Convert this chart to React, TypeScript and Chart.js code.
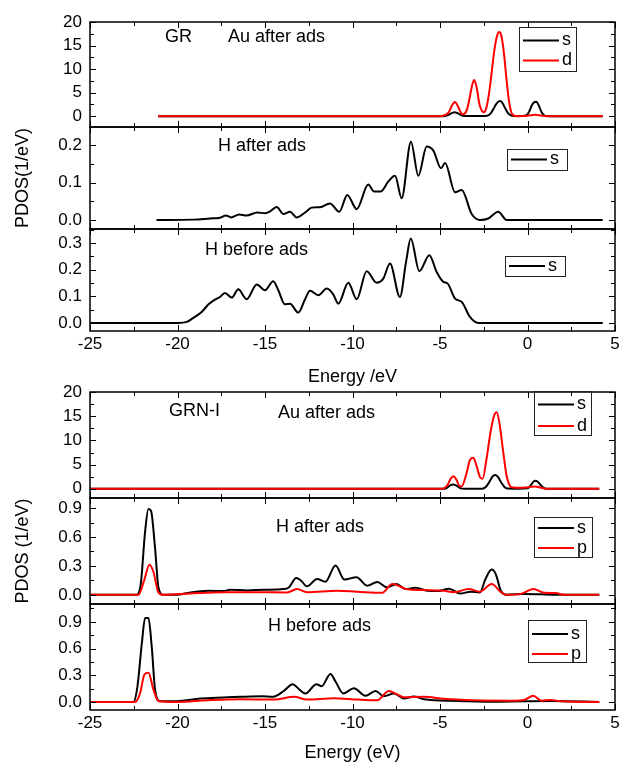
import React, { useEffect, useRef } from 'react';
import { Chart, registerables } from 'chart.js';
Chart.register(...registerables);

type Pt = [number, number];

// ---------- data (energy eV, PDOS) ----------
// GR, Au after ads
const grAuS: Pt[] = [[-21.1,0],[-5.0,0],[-4.7,0.05],[-4.5,0.3],[-4.3,0.7],[-4.15,0.85],[-4.0,0.65],[-3.8,0.25],[-3.6,0.05],[-3.4,0.02],[-2.6,0.02],[-2.3,0.1],[-2.1,0.6],[-1.95,1.5],[-1.8,2.5],[-1.65,3.15],[-1.55,3.2],[-1.4,2.6],[-1.25,1.5],[-1.1,0.6],[-0.95,0.15],[-0.8,0.03],[-0.3,0.02],[-0.05,0.2],[0.1,1.0],[0.25,2.3],[0.4,3.0],[0.5,3.05],[0.65,2.2],[0.8,0.9],[0.95,0.2],[1.1,0.03],[1.4,0],[4.3,0]];
const grAuD: Pt[] = [[-21.1,0],[-5.2,0],[-4.9,0.05],[-4.7,0.25],[-4.5,0.8],[-4.35,2.0],[-4.15,3.0],[-3.95,1.9],[-3.8,0.7],[-3.7,0.4],[-3.6,0.5],[-3.45,1.5],[-3.3,4.0],[-3.15,6.8],[-3.04,7.7],[-2.9,6.0],[-2.75,2.6],[-2.6,1.1],[-2.5,0.85],[-2.35,1.8],[-2.2,4.8],[-2.05,9.2],[-1.9,13.8],[-1.75,16.9],[-1.62,17.9],[-1.5,17.2],[-1.35,13.5],[-1.2,7.8],[-1.05,3.0],[-0.9,0.6],[-0.75,0.1],[-0.5,0],[0.0,0.1],[0.45,0.3],[0.8,0.1],[1.1,0],[4.3,0]];
// GR, H after ads
const grHAfterS: Pt[] = [[-21.2,0],[-19.1,0.001],[-18.14,0.004],[-17.57,0.006],[-17.23,0.012],[-16.94,0.007],[-16.47,0.015],[-16.05,0.012],[-15.44,0.02],[-15.0,0.018],[-14.71,0.023],[-14.33,0.035],[-13.95,0.016],[-13.57,0.022],[-13.19,0.007],[-12.71,0.02],[-12.33,0.033],[-11.86,0.034],[-11.29,0.044],[-10.75,0.022],[-10.3,0.067],[-9.76,0.029],[-9.1,0.095],[-8.77,0.076],[-8.39,0.076],[-7.95,0.103],[-7.57,0.118],[-7.19,0.058],[-6.66,0.209],[-6.24,0.118],[-5.76,0.196],[-5.38,0.185],[-4.94,0.138],[-4.71,0.152],[-4.14,0.074],[-3.76,0.08],[-3.19,0.016],[-2.71,0],[-2.24,0.004],[-1.67,0.022],[-1.19,0],[4.3,0]];
// GR, H before ads
const grHBeforeS: Pt[] = [[-25,0],[-19.95,0],[-19.47,0.004],[-19.1,0.019],[-18.62,0.041],[-18.24,0.069],[-17.86,0.0875],[-17.57,0.0975],[-17.29,0.1125],[-16.9,0.095],[-16.53,0.126],[-16.05,0.089],[-15.47,0.144],[-15.0,0.1225],[-14.53,0.156],[-14.24,0.1225],[-13.86,0.07],[-13.57,0.0725],[-13.1,0.039],[-12.71,0.089],[-12.43,0.121],[-11.95,0.104],[-11.47,0.129],[-11.1,0.1075],[-10.81,0.0725],[-10.24,0.151],[-9.76,0.089],[-9.19,0.194],[-8.62,0.151],[-8.24,0.166],[-7.86,0.2225],[-7.29,0.0975],[-6.94,0.229],[-6.67,0.316],[-6.18,0.194],[-5.61,0.254],[-5.19,0.191],[-4.81,0.154],[-4.56,0.1475],[-4.14,0.091],[-3.76,0.079],[-3.29,0.0225],[-2.81,0],[4.3,0]];
// GRN-I, Au after ads
const grnAuS: Pt[] = [[-25,0],[-4.75,0],[-4.55,0.35],[-4.4,0.75],[-4.24,0.9],[-4.05,0.65],[-3.85,0.15],[-3.6,0.02],[-2.6,0.02],[-2.4,0.3],[-2.2,1.3],[-2.0,2.5],[-1.86,2.85],[-1.7,2.5],[-1.5,1.3],[-1.3,0.3],[-1.15,0.05],[-0.5,0.02],[0.0,0.1],[0.2,0.8],[0.35,1.5],[0.47,1.67],[0.6,1.4],[0.8,0.6],[1.0,0.1],[1.2,0],[4.1,0]];
const grnAuD: Pt[] = [[-25,0],[-4.9,0],[-4.6,0.6],[-4.4,2.0],[-4.24,2.6],[-4.05,1.8],[-3.9,0.6],[-3.76,0.5],[-3.5,3.0],[-3.3,5.8],[-3.1,6.4],[-2.9,4.6],[-2.7,2.3],[-2.56,2.1],[-2.35,6.0],[-2.1,12.0],[-1.9,15.2],[-1.76,15.8],[-1.6,13.5],[-1.4,8.0],[-1.2,2.8],[-1.0,0.6],[-0.85,0.3],[-0.5,0.2],[0.1,0.35],[0.43,0.5],[0.8,0.2],[1.1,0],[4.1,0]];
// GRN-I, H after ads
const grnHAfterS: Pt[] = [[-25,0],[-22.33,0],[-22.1,0.11],[-21.85,0.66],[-21.66,0.89],[-21.51,0.87],[-21.28,0.48],[-21.09,0.077],[-20.8,0],[-20.04,0],[-19.27,0.025],[-18.23,0.042],[-17.37,0.039],[-16.98,0.053],[-16.03,0.046],[-15.08,0.053],[-13.93,0.06],[-13.64,0.077],[-13.21,0.175],[-12.94,0.147],[-12.6,0.088],[-12.02,0.165],[-11.55,0.137],[-10.97,0.305],[-10.46,0.158],[-9.77,0.183],[-9.16,0.095],[-8.59,0.133],[-8.02,0.077],[-7.48,0.112],[-6.97,0.06],[-6.39,0.074],[-5.73,0.042],[-5.15,0.039],[-4.48,0.063],[-3.85,0.014],[-3.25,0.032],[-2.72,0.025],[-2.4,0.165],[-2.05,0.263],[-1.82,0.218],[-1.52,0.042],[-1.2,0],[-0.19,0.01],[1.72,0],[4.1,0]];
const grnHAfterP: Pt[] = [[-25,0],[-22.23,0],[-21.91,0.147],[-21.6,0.312],[-21.37,0.235],[-21.09,0.025],[-20.8,0],[-19.27,0.014],[-17.37,0.028],[-15.46,0.028],[-13.74,0.025],[-13.17,0.06],[-12.6,0.028],[-10.88,0.042],[-9.73,0.032],[-8.3,0.021],[-7.73,0.112],[-7.44,0.1],[-6.97,0.06],[-5.92,0.049],[-4.77,0.042],[-4.2,0.028],[-3.35,0.06],[-2.72,0.032],[-2.05,0.112],[-1.5,0.025],[-1.2,0],[-0.38,0.01],[0.34,0.06],[0.95,0.021],[1.62,0.018],[2.1,0],[4.1,0]];
// GRN-I, H before ads
const grnHBeforeS: Pt[] = [[-25,0],[-22.52,0],[-22.29,0.173],[-22.04,0.654],[-21.85,0.942],[-21.66,0.942],[-21.47,0.615],[-21.28,0.135],[-20.99,0.008],[-20.04,0.008],[-18.7,0.038],[-17.37,0.05],[-16.41,0.058],[-15.17,0.065],[-14.54,0.058],[-13.93,0.123],[-13.42,0.2],[-13.07,0.146],[-12.69,0.096],[-12.06,0.2],[-11.77,0.177],[-11.26,0.315],[-10.97,0.23],[-10.53,0.096],[-9.92,0.154],[-9.26,0.069],[-8.68,0.123],[-8.21,0.065],[-7.63,0.096],[-7.06,0.038],[-6.49,0.062],[-5.92,0.031],[-4.01,0.012],[-2.1,0.004],[-0.19,0.008],[1.34,0.01],[4.1,0]];
const grnHBeforeP: Pt[] = [[-25,0],[-22.42,0],[-22.14,0.096],[-21.89,0.308],[-21.66,0.327],[-21.37,0.135],[-21.09,0.012],[-20.04,0],[-18.32,0.019],[-16.41,0.031],[-14.5,0.027],[-13.32,0.058],[-12.6,0.027],[-11.07,0.042],[-9.73,0.027],[-8.59,0.019],[-7.92,0.123],[-7.48,0.088],[-7.06,0.054],[-5.92,0.058],[-4.77,0.035],[-3.05,0.019],[-0.95,0.015],[-0.19,0.023],[0.33,0.069],[0.8,0.015],[1.34,0.023],[1.91,0.008],[4.1,0]];

// axis ticks
const xTickMajor = [-25, -20, -15, -10, -5, 0, 5];
const auTicks = [0, 5, 10, 15, 20];
const hGrTicks = [0, 0.1, 0.2];
const hGrBeforeTicks = [0, 0.1, 0.2, 0.3];
const hGrnTicks = [0, 0.3, 0.6, 0.9];

// ---------- layout ----------
const FONT = "'Liberation Sans', Arial, Helvetica, sans-serif";
const PAGE_W = 628;
const PLOT_LEFT = 90;
const PLOT_RIGHT = 615;
const PAD = 14;
const BLACK = '#000000';
const RED = '#ff0000';

interface Series { data: Pt[]; color: string; label: string; }
interface PanelCfg {
  top: number; bottom: number;
  yMin: number; yMax: number; yMajor: number[]; yMinor: number; yDec: number;
  series: Series[];
  legend: { x: number; y: number; w: number; h: number; rows: number[] };
  notes: { text: string; x: number; y: number }[];
  yTitle?: string;
  xAxis?: { title: string; height: number; pad: number };
}

const panels: PanelCfg[] = [
  { top: 22, bottom: 127, yMin: -2.3, yMax: 20, yMajor: auTicks, yMinor: 2.5, yDec: 0,
    series: [{ data: grAuS, color: BLACK, label: 's' }, { data: grAuD, color: RED, label: 'd' }],
    legend: { x: 519, y: 27, w: 57, h: 44, rows: [40.5, 60.5] },
    notes: [{ text: 'GR', x: 165, y: 37 }, { text: 'Au after ads', x: 228, y: 37 }] },
  { top: 127, bottom: 229, yMin: -0.024, yMax: 0.248, yMajor: hGrTicks, yMinor: 0.05, yDec: 1,
    series: [{ data: grHAfterS, color: BLACK, label: 's' }],
    legend: { x: 507, y: 149, w: 60, h: 21, rows: [159.5] },
    notes: [{ text: 'H after ads', x: 218, y: 146 }], yTitle: 'PDOS(1/eV)' },
  { top: 229, bottom: 331, yMin: -0.03, yMax: 0.352, yMajor: hGrBeforeTicks, yMinor: 0.05, yDec: 1,
    series: [{ data: grHBeforeS, color: BLACK, label: 's' }],
    legend: { x: 505, y: 256, w: 60, h: 20, rows: [266] },
    notes: [{ text: 'H before ads', x: 205, y: 250 }],
    xAxis: { title: 'Energy /eV', height: 60, pad: 3 } },
  { top: 392, bottom: 498, yMin: -1.9, yMax: 20, yMajor: auTicks, yMinor: 2.5, yDec: 0,
    series: [{ data: grnAuS, color: BLACK, label: 's' }, { data: grnAuD, color: RED, label: 'd' }],
    legend: { x: 534, y: 391, w: 57, h: 44, rows: [404.5, 426] },
    notes: [{ text: 'GRN-I', x: 169, y: 411 }, { text: 'Au after ads', x: 278, y: 413 }] },
  { top: 498, bottom: 604, yMin: -0.095, yMax: 1.005, yMajor: hGrnTicks, yMinor: 0.15, yDec: 1,
    series: [{ data: grnHAfterS, color: BLACK, label: 's' }, { data: grnHAfterP, color: RED, label: 'p' }],
    legend: { x: 534, y: 517, w: 58, h: 40, rows: [528, 548] },
    notes: [{ text: 'H after ads', x: 276, y: 527 }], yTitle: 'PDOS (1/eV)' },
  { top: 604, bottom: 710, yMin: -0.09, yMax: 1.1, yMajor: hGrnTicks, yMinor: 0.15, yDec: 1,
    series: [{ data: grnHBeforeS, color: BLACK, label: 's' }, { data: grnHBeforeP, color: RED, label: 'p' }],
    legend: { x: 528, y: 620, w: 58, h: 42, rows: [634, 654] },
    notes: [{ text: 'H before ads', x: 268, y: 626 }],
    xAxis: { title: 'Energy (eV)', height: 56, pad: 2 } },
];

function Panel({ cfg }: { cfg: PanelCfg }) {
  const ref = useRef<HTMLCanvasElement>(null);
  const canvasTop = cfg.top - PAD;
  const height = cfg.bottom - cfg.top + PAD + (cfg.xAxis ? cfg.xAxis.height : PAD);

  useEffect(() => {
    const deco = {
      id: 'deco',
      afterDraw(chart: any) {
        const { ctx, chartArea } = chart;
        const { left, right, top, bottom } = chartArea;
        const xs = chart.scales.x;
        const ys = chart.scales.y;
        ctx.save();
        ctx.strokeStyle = '#000';
        ctx.lineWidth = 1;
        ctx.beginPath();
        for (let k = 0; k <= 12; k++) {
          const v = -25 + k * 2.5;
          const p = Math.round(xs.getPixelForValue(v)) + 0.5;
          const len = xTickMajor.includes(v) ? 6 : 4;
          ctx.moveTo(p, bottom); ctx.lineTo(p, bottom - len);
          ctx.moveTo(p, top); ctx.lineTo(p, top + len);
        }
        const k0 = Math.ceil(cfg.yMin / cfg.yMinor - 1e-6);
        for (let k = k0; k * cfg.yMinor <= cfg.yMax + 1e-6; k++) {
          const v = k * cfg.yMinor;
          const p = Math.round(ys.getPixelForValue(v)) + 0.5;
          const len = k % 2 === 0 ? 6 : 4;
          ctx.moveTo(left, p); ctx.lineTo(left + len, p);
          ctx.moveTo(right, p); ctx.lineTo(right - len, p);
        }
        ctx.stroke();
        ctx.lineWidth = 1.5;
        ctx.strokeRect(left, top, right - left, bottom - top);

        const cy = (y: number) => y - canvasTop;
        ctx.fillStyle = '#000';
        ctx.font = `18px ${FONT}`;
        ctx.textBaseline = 'middle';
        ctx.textAlign = 'left';
        cfg.notes.forEach((n) => ctx.fillText(n.text, n.x, cy(n.y)));

        const L = cfg.legend;
        ctx.lineWidth = 1;
        ctx.strokeStyle = '#222';
        ctx.strokeRect(L.x + 0.5, cy(L.y) + 0.5, L.w, L.h);
        cfg.series.forEach((s, i) => {
          const y = cy(L.rows[i]);
          ctx.strokeStyle = s.color;
          ctx.lineWidth = 2;
          ctx.beginPath();
          ctx.moveTo(L.x + 4, y);
          ctx.lineTo(L.x + 40, y);
          ctx.stroke();
          ctx.fillStyle = '#000';
          ctx.fillText(s.label, L.x + 43, y);
        });
        ctx.restore();
      },
    };

    const xScale: any = cfg.xAxis
      ? {
          type: 'linear', min: -25, max: 5, position: 'bottom',
          afterFit: (s: any) => { s.height = cfg.xAxis!.height; s.paddingLeft = 0; s.paddingRight = 0; },
          ticks: { stepSize: 5, autoSkip: false, maxRotation: 0, padding: 3, color: '#000',
            font: { size: 17, family: FONT }, callback: (v: any) => String(v) },
          grid: { display: false, drawTicks: false },
          border: { display: false },
          title: { display: true, text: cfg.xAxis.title, color: '#000',
            font: { size: 18, family: FONT }, padding: { top: 0, bottom: cfg.xAxis.pad } },
        }
      : { type: 'linear', min: -25, max: 5, display: false };

    const chart = new Chart(ref.current as HTMLCanvasElement, {
      type: 'line',
      data: {
        datasets: cfg.series.map((s, i) => ({
          label: s.label,
          data: s.data.map(([x, y]) => ({ x, y })),
          borderColor: s.color,
          backgroundColor: s.color,
          borderWidth: 2,
          pointRadius: 0,
          fill: false,
          cubicInterpolationMode: 'monotone' as const,
          order: cfg.series.length - i,
        })),
      },
      options: {
        animation: false,
        responsive: false,
        devicePixelRatio: 1,
        layout: { padding: { left: 0, right: PAGE_W - PLOT_RIGHT, top: PAD, bottom: cfg.xAxis ? 0 : PAD } },
        plugins: { legend: { display: false }, tooltip: { enabled: false } },
        scales: {
          x: xScale,
          y: {
            type: 'linear', min: cfg.yMin, max: cfg.yMax, position: 'left',
            afterFit: (s: any) => { s.width = PLOT_LEFT; s.paddingTop = 0; s.paddingBottom = 0; },
            afterBuildTicks: (s: any) => { s.ticks = cfg.yMajor.map((v) => ({ value: v })); },
            ticks: { autoSkip: false, padding: 8, color: '#000', font: { size: 17, family: FONT },
              callback: (v: any) => Number(v).toFixed(cfg.yDec) },
            grid: { display: false, drawTicks: false },
            border: { display: false },
            title: cfg.yTitle
              ? { display: true, text: cfg.yTitle, color: '#000', font: { size: 18, family: FONT },
                  padding: { top: 12, bottom: 0 } }
              : { display: false },
          },
        },
      } as any,
      plugins: [deco],
    });
    return () => chart.destroy();
  }, []);

  return (
    <canvas
      ref={ref}
      width={PAGE_W}
      height={height}
      style={{ position: 'absolute', left: 0, top: canvasTop, width: PAGE_W, height }}
    />
  );
}

export default function App() {
  return (
    <div style={{ position: 'absolute', left: 0, top: 0, width: PAGE_W, height: 769, background: '#fff' }}>
      {panels.map((p, i) => (
        <Panel key={i} cfg={p} />
      ))}
    </div>
  );
}
